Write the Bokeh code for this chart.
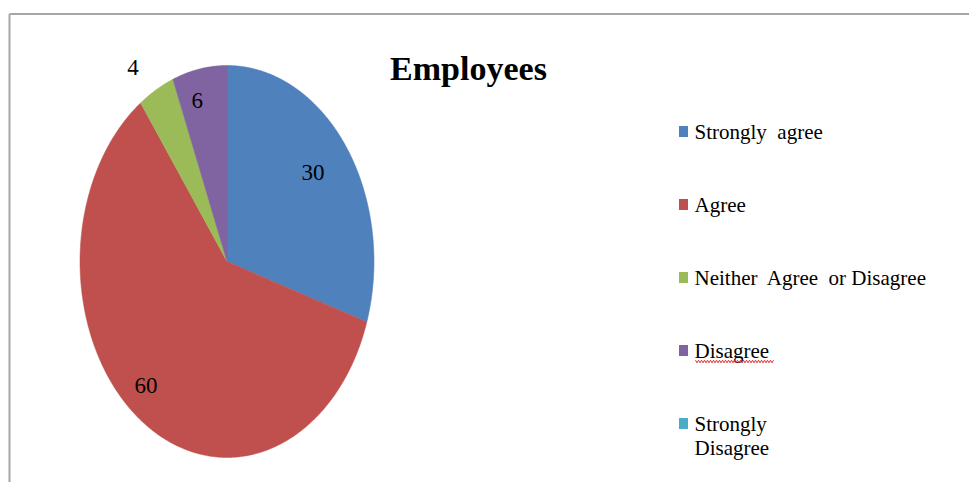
import numpy as np
from bokeh.plotting import figure
from bokeh.models import Range1d
from bokeh.core.properties import value
from bokeh.embed import file_html
from bokeh.resources import INLINE

# Survey responses of employees
categories = ["Strongly  agree", "Agree", "Neither  Agree  or Disagree", "Disagree", "Strongly\nDisagree"]
counts = [30, 60, 4, 6, 0]
colors = ["#4F81BD", "#C0504D", "#9BBB59", "#8064A2", "#4BACC6"]
title_text = "Employees"

W, H = 969, 482
FONT = "Liberation Serif"

p = figure(width=W, height=H, output_backend="svg", toolbar_location=None,
           x_range=Range1d(0, W), y_range=Range1d(H, 0),
           min_border=0, outline_line_color=None)
p.axis.visible = False
p.grid.visible = False
p.background_fill_color = "white"
p.border_fill_color = "white"

# chart frame (top and left edges)
p.segment(x0=[9, 9], y0=[13.5, 13.5], x1=[W, 9], y1=[13.5, H],
          line_color="#A6A6A6", line_width=2)

# elliptical pie, clockwise from 12 o'clock
cx, cy, rx, ry = 226.5, 261.0, 147.0, 196.0
total = float(sum(counts))
fracs = np.array(counts, dtype=float) / total
ends = np.cumsum(fracs) * 2 * np.pi
starts = ends - fracs * 2 * np.pi

xs, ys, fills = [], [], []
for a0, a1, c, n in zip(starts, ends, colors, counts):
    if n <= 0:
        continue
    t = np.linspace(a0, a1, max(int((a1 - a0) * 120), 3))
    xs.append(np.concatenate([[cx], cx + rx * np.sin(t), [cx]]))
    ys.append(np.concatenate([[cy], cy - ry * np.cos(t), [cy]]))
    fills.append(c)
p.patches(xs=xs, ys=ys, fill_color=fills, line_color=fills, line_width=0.5)

# value labels placed near each slice's mid angle (radius fraction, angle nudge in degrees)
label_r = [0.74, 0.84, 1.18, 0.845, 1.0]
label_da = [-1.7, 5.0, -4.0, -3.0, 0.0]
lx, ly, lt = [], [], []
for a0, a1, n, r, da in zip(starts, ends, counts, label_r, label_da):
    if n <= 0:
        continue
    m = 0.5 * (a0 + a1) + np.radians(da)
    lx.append(cx + r * rx * np.sin(m))
    ly.append(cy - r * ry * np.cos(m))
    lt.append(str(n))
p.text(x=lx, y=ly, text=lt, text_font=value(FONT), text_font_size="23px",
       text_color="black", text_align="center", text_baseline="middle")

# title
p.text(x=[468], y=[68], text=[title_text], text_font=value(FONT),
       text_font_size="34px", text_font_style="bold", text_color="black",
       text_align="center", text_baseline="middle")

# legend
leg_x, leg_y0, leg_dy = 683, 131, 73
leg_y = [leg_y0 + i * leg_dy for i in range(len(categories))]
p.rect(x=[leg_x] * len(categories), y=leg_y, width=9, height=11,
       fill_color=colors, line_color=None)
first_lines = [c.split("\n")[0].replace("  ", "\u00a0 ") for c in categories]
p.text(x=[leg_x + 11] * len(categories), y=leg_y, text=first_lines,
       text_font=value(FONT), text_font_size="21px", text_color="black",
       text_align="left", text_baseline="middle")
extra = [(i, c.split("\n")[1]) for i, c in enumerate(categories) if "\n" in c]
p.text(x=[leg_x + 11] * len(extra), y=[leg_y[i] + 24 for i, _ in extra],
       text=[s for _, s in extra], text_font=value(FONT), text_font_size="21px",
       text_color="black", text_align="left", text_baseline="middle")

# spell-check squiggle under "Disagree"
sq_x = np.arange(695, 774, 1.5)
sq_y = leg_y[3] + 11 + 1.3 * ((np.arange(len(sq_x)) % 2) * 2 - 1)
p.line(x=sq_x, y=sq_y, line_color="#E03030", line_width=1)

open("out.html", "w").write(file_html(p, INLINE))
